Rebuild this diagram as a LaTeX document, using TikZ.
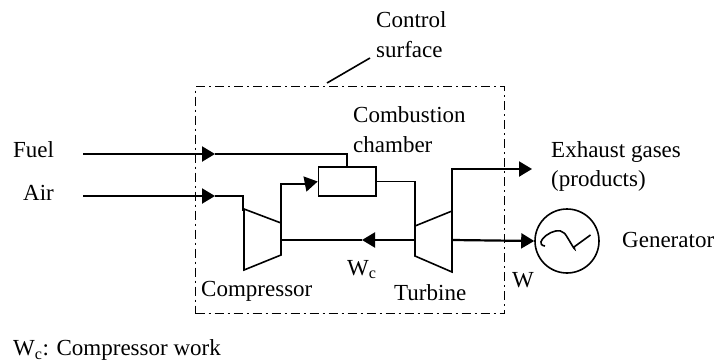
\documentclass[tikz,border=0pt]{standalone}
\usepackage{fontspec}
\setmainfont{Liberation Serif}
\usetikzlibrary{arrows.meta}
\tikzset{
  lbl/.style={anchor=base west,inner sep=0pt,font=\fontsize{23}{25}\selectfont},
  thinln/.style={line width=1.6pt},
  flow/.style={line width=2.2pt,-{Triangle[length=13pt,width=15pt]}},
  surf/.style={line width=1.1pt,dash pattern=on 9pt off 4pt on 2pt off 4pt},
}
\begin{document}
\begin{tikzpicture}[x=1pt,y=-1pt]
    \useasboundingbox (0,0) rectangle (715,362);
    % control surface
    \node[draw,surf,minimum width=309pt,minimum height=227pt,inner sep=0pt,anchor=north west]
      (surface) at (195,86) {};
    % labels
    \foreach \nm/\x/\y/\txt in {
        ctrl/376/27/Control,
        ctrlb/376/57/surface,
        comb/353/122/Combustion,
        chmb/353/152/chamber,
        fuel/13/157/Fuel,
        air/23/200/Air,
        exh/551/157/Exhaust gases,
        prod/551/186/(products),
        gen/622/247/Generator,
        wout/512/287/W,
        wcomp/347/275/W\textsubscript{c},
        turb/394/300/Turbine,
        comp/201/296/Compressor,
        note/13/355.5/W\textsubscript{c}: Compressor work}{
      \node[lbl] (\nm) at (\x,\y) {\txt};
    }
    % components
    \node[draw,thinln,minimum width=57.5pt,minimum height=29pt,inner sep=0pt] (burner) at (347.25,181.5) {};
    \node[draw,thinln,circle,minimum size=64pt,inner sep=0pt] (alt) at (567,241) {};
    \draw[thinln] (alt.center)+(-22,5) .. controls +(-14,-2) and +(-8,-9) .. +(-3,-8)
       .. controls +(1,-1) and +(3,8) .. +(7,6) -- +(23.5,-6);
    \coordinate (c1) at (244,209); \coordinate (c2) at (281,223);
    \coordinate (c3) at (281,255); \coordinate (c4) at (244,270);
    \coordinate (t1) at (415,226); \coordinate (t2) at (452,211);
    \coordinate (t3) at (452,272); \coordinate (t4) at (415,256);
    \draw[thinln] (c1)--(c2)--(c3)--(c4)--cycle;
    \draw[thinln] (t1)--(t2)--(t3)--(t4)--cycle;
    % fuel and air
    \coordinate (fuelin) at (83,154); \coordinate (fueltip) at (215,154);
    \coordinate (airin) at (83,196); \coordinate (airtip) at (215,196);
    \draw[flow] (fuelin)--(fueltip);
    \draw[thinln] (fueltip)-|(burner.north);
    \draw[flow] (airin)--(airtip);
    \draw[thinln] (airtip)-|(243,211);
    % compressor to burner to turbine
    \draw[thinln] (c2)--(281,184)--(305,184);
    \draw[flow] (305,184)--(burner.west);
    \draw[thinln] (burner.east)-|(t1);
    % shaft, exhaust, work
    \coordinate (shafttip) at (362,240);
    \draw[thinln] (281,240)--(shafttip);
    \draw[flow] (415,240)--(shafttip);
    \coordinate (exhtip) at (532,169);
    \draw[flow] (t2)|-(exhtip);
    \draw[flow] (452,240)--(alt.west);
    % leader
    \coordinate (lead) at (370,58);
    \draw[thinln] (327,83)--(lead);
\end{tikzpicture}
\end{document}
